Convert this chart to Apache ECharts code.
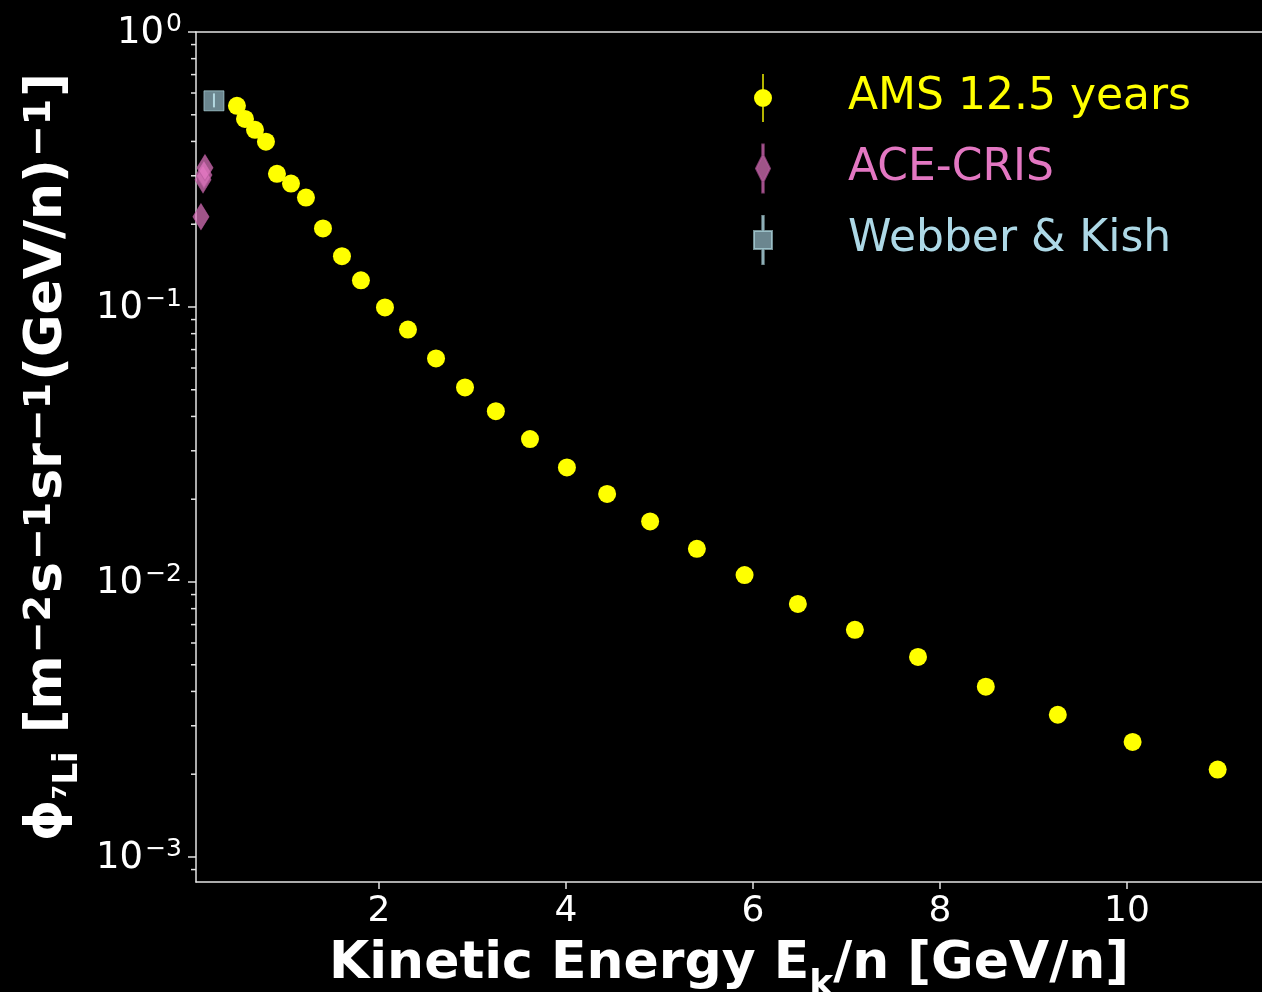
<!DOCTYPE html>
<html><head><meta charset="utf-8">
<script src="https://cdn.jsdelivr.net/npm/echarts@6/dist/echarts.min.js"></script>
<style>html,body{margin:0;padding:0;background:#000}#c{width:1262px;height:992px}</style>
</head><body><div id="c"></div>
<script>
// ---- data ----
const amsEnergy = [0.481, 0.567, 0.674, 0.791, 0.909, 1.059, 1.219, 1.401, 1.604, 1.807,
  2.064, 2.31, 2.61, 2.92, 3.25, 3.615, 4.01, 4.44, 4.90, 5.40,
  5.91, 6.48, 7.09, 7.765, 8.49, 9.26, 10.06, 10.97];
const amsFlux = [0.539, 0.483, 0.441, 0.399, 0.305, 0.281, 0.250, 0.193, 0.153, 0.125,
  0.0996, 0.0828, 0.0650, 0.0510, 0.0418, 0.0331, 0.0261, 0.0209, 0.0166, 0.0132,
  0.0106, 0.00832, 0.00670, 0.00534, 0.00416, 0.00329, 0.00262, 0.00208];
const aceEnergy = [0.096, 0.118, 0.128, 0.139];
const aceFlux = [0.213, 0.290, 0.302, 0.321];
const wkEnergy = [0.235];
const wkFlux = [0.562];
const wkFluxLow = [0.532];
const wkFluxHigh = [0.598];
const xTickValues = [2, 4, 6, 8, 10];
const yMinorTicks = [9e-4,
  2e-3, 3e-3, 4e-3, 5e-3, 6e-3, 7e-3, 8e-3, 9e-3,
  2e-2, 3e-2, 4e-2, 5e-2, 6e-2, 7e-2, 8e-2, 9e-2,
  2e-1, 3e-1, 4e-1, 5e-1, 6e-1, 7e-1, 8e-1, 9e-1];
const seriesNames = ['AMS 12.5 years', 'ACE-CRIS', 'Webber & Kish'];

const X_MIN = 0.043, X_MAX = 11.444, Y_MIN = 8.11e-4, Y_MAX = 1;
const FONT = 'DejaVu Sans';
const AXIS_COLOR = '#e4e4e4';

const zip = (a, b) => a.map((v, i) => [v, b[i]]);

const iconAms = 'path://M9.3,0H10.7V15.2H9.3Z M9.3,32.8H10.7V48H9.3Z M10,15A9,9 0 1,1 10,33A9,9 0 1,1 10,15Z';
const iconAce = 'path://M9.3,0H10.7V10.5H9.3Z M9.3,37.5H10.7V48H9.3Z M10,10L17,24L10,38L3,24Z';
const iconWk = 'path://M9.3,0H10.7V15H9.3Z M9.3,33H10.7V48H9.3Z M1,15H19V33H1Z';

const chart = echarts.init(document.getElementById('c'), null, {renderer: 'canvas'});
chart.setOption({
  backgroundColor: '#000',
  animation: false,
  grid: {left: 196, right: 0, top: 32, bottom: 110, containLabel: false, outerBoundsMode: 'none'},
  legend: {
    orient: 'vertical',
    left: 748, top: 69,
    itemWidth: 20, itemHeight: 48,
    itemGap: 21.5,
    selectedMode: false,
    textStyle: {fontFamily: FONT, fontSize: 44, padding: [0, 0, 0, 70]},
    data: [
      {name: seriesNames[0], icon: iconAms, textStyle: {color: '#ffff00'}},
      {name: seriesNames[1], icon: iconAce, textStyle: {color: '#e377c2'}},
      {name: seriesNames[2], icon: iconWk, textStyle: {color: '#add8e6'}}
    ]
  },
  xAxis: [{
    type: 'value', min: X_MIN, max: X_MAX, splitNumber: 5,
    position: 'bottom',
    splitLine: {show: false},
    axisLine: {show: true, onZero: false, lineStyle: {color: AXIS_COLOR, width: 1.5}},
    axisTick: {show: true, length: 7, lineStyle: {color: AXIS_COLOR, width: 1.5}},
    axisLabel: {
      color: '#ffffff', fontFamily: FONT, fontSize: 36, margin: 12,
      showMinLabel: false, showMaxLabel: false,
      formatter: v => xTickValues.some(t => Math.abs(t - v) < 1e-6) ? String(Math.round(v)) : ''
    },
    name: 'Kinetic Energy E{sub|k}/n [GeV/n]',
    nameLocation: 'middle', nameGap: 56,
    nameTextStyle: {
      color: '#ffffff', fontFamily: FONT, fontSize: 52, fontWeight: 'bold',
      rich: {sub: {fontFamily: FONT, fontSize: 36, fontWeight: 'bold', color: '#fff', verticalAlign: 'bottom', padding: [0, 0, -14, 0]}}
    }
  }, {
    type: 'value', min: X_MIN, max: X_MAX, position: 'top',
    splitLine: {show: false}, axisTick: {show: false}, axisLabel: {show: false},
    axisLine: {show: true, onZero: false, lineStyle: {color: AXIS_COLOR, width: 1.5}}
  }],
  yAxis: {
    type: 'log', logBase: 10, min: Y_MIN, max: Y_MAX,
    splitLine: {show: false},
    axisLine: {show: true, onZero: false, lineStyle: {color: AXIS_COLOR, width: 1.5}},
    axisTick: {show: true, length: 8, lineStyle: {color: AXIS_COLOR, width: 1.5}},
    axisLabel: {
      color: '#ffffff', fontFamily: FONT, margin: 14,
      showMinLabel: false,
      formatter: v => {
        const e = Math.log10(v), r = Math.round(e);
        if (Math.abs(e - r) > 1e-6) return '';
        const sup = r === 0 ? '0' : '\u2212' + Math.abs(r);
        return '{b|10}{s|' + sup + '}';
      },
      rich: {
        b: {fontFamily: FONT, fontSize: 37, color: '#fff', verticalAlign: 'bottom', lineHeight: 40},
        s: {fontFamily: FONT, fontSize: 25, color: '#fff', verticalAlign: 'top', lineHeight: 24, padding: [0, 0, 0, 2]}
      }
    },
    name: '\u03d5{sub|\u2077Li} [m{sup|\u22122}s{sup|\u22121}sr{sup|\u22121}(GeV/n){sup|\u22121}]',
    nameLocation: 'middle', nameGap: 120, nameRotate: 90,
    nameTextStyle: {
      color: '#ffffff', fontFamily: FONT, fontSize: 52, fontWeight: 'bold',
      rich: {
        sub: {fontFamily: FONT, fontSize: 34, fontWeight: 'bold', color: '#fff', verticalAlign: 'bottom', padding: [0, 0, -12, 0]},
        sup: {fontFamily: FONT, fontSize: 38, fontWeight: 'bold', color: '#fff', verticalAlign: 'top', padding: [0, 2, 12, 2]}
      }
    }
  },
  series: [
    {
      name: seriesNames[1], type: 'scatter',
      data: zip(aceEnergy, aceFlux),
      symbol: 'path://M0,-1L0.6,0L0,1L-0.6,0Z', symbolSize: [16, 26],
      itemStyle: {color: '#e377c2', opacity: 0.7, borderColor: '#b85a9e', borderWidth: 1},
      z: 3
    },
    {
      name: seriesNames[2], type: 'scatter',
      data: zip(wkEnergy, wkFlux),
      symbol: 'rect', symbolSize: 20,
      itemStyle: {color: '#add8e6', opacity: 0.62, borderColor: '#b8e2ea', borderWidth: 1},
      z: 3
    },
    {
      name: seriesNames[2] + ' err', type: 'custom',
      data: wkEnergy.map((x, i) => [x, wkFluxLow[i], wkFluxHigh[i]]),
      renderItem: (params, api) => {
        const lo = api.coord([api.value(0), api.value(1)]);
        const hi = api.coord([api.value(0), api.value(2)]);
        return {type: 'line', shape: {x1: lo[0], y1: lo[1], x2: hi[0], y2: hi[1]},
          style: {stroke: '#bfe6ee', lineWidth: 2, opacity: 0.85}};
      },
      encode: {x: 0, y: [1, 2]}, z: 4, silent: true
    },
    {
      name: seriesNames[0], type: 'scatter',
      data: zip(amsEnergy, amsFlux),
      symbol: 'circle', symbolSize: 18,
      itemStyle: {color: '#ffff00', opacity: 1},
      z: 5
    },
    {
      name: 'minor ticks', type: 'custom',
      data: yMinorTicks.map(v => [X_MIN, v]),
      renderItem: (params, api) => {
        const p = api.coord([api.value(0), api.value(1)]);
        return {type: 'line', shape: {x1: p[0] - 5, y1: p[1], x2: p[0], y2: p[1]},
          style: {stroke: AXIS_COLOR, lineWidth: 1.5}};
      },
      clip: false, silent: true, z: 6
    }
  ]
});
</script>
</body></html>
